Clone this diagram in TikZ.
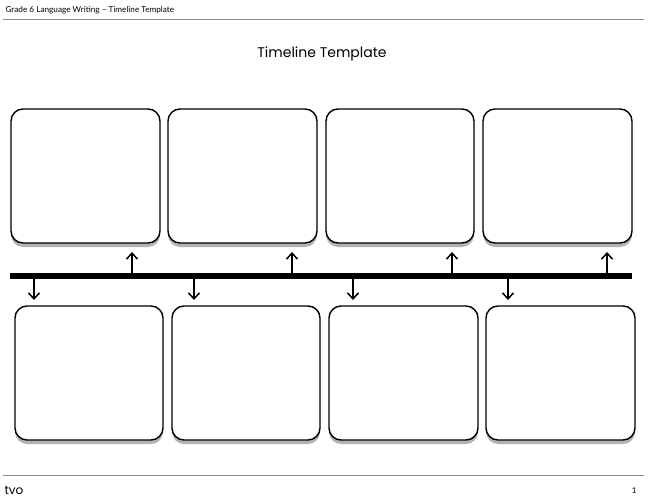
\documentclass[tikz,border=0pt]{standalone}
\usetikzlibrary{arrows.meta}
\usepackage{fontspec}
\setmainfont{Lato}
\newfontfamily\titlefont{Poppins}
\begin{document}
\begin{tikzpicture}[x=1pt,y=-1pt,
  card/.style={draw=black,line width=1.4pt,fill=white,rounded corners=12pt},
  shade/.style={fill=black!30,rounded corners=12pt},
  arr/.style={line width=1.5pt,-{Straight Barb[length=6pt,width=11pt]}},
  rule/.style={draw=black!45,line width=1pt}]
\useasboundingbox (0,0) rectangle (648,500);
\node[anchor=west,font=\fontsize{8.2}{10}\selectfont] (hdr) at (2,10) {Grade 6 Language Writing – Timeline Template};
\draw[rule] (3,20) -- (644,20);
\node[font=\titlefont\fontsize{14}{17}\selectfont] (title) at (322,54) {Timeline Template};
\foreach \i/\xa/\xb in {1/11/160,2/168/317,3/326/474,4/483/632}{
  \fill[shade] (\xa,112) rectangle (\xb,247);
  \draw[card] (\xa,109) rectangle (\xb,243);
}
\foreach \i/\xa/\xb in {1/15/163,2/172/320,3/329/478,4/486/635}{
  \fill[shade] (\xa,309) rectangle (\xb,444);
  \draw[card] (\xa,306) rectangle (\xb,440);
}
\fill[black] (10,272.5) rectangle (632,278.5);
\foreach \x in {132,292,452,607}{
  \coordinate (ua) at (\x,273); \coordinate (ub) at (\x,252);
  \draw[arr] (ua) -- (ub);}
\foreach \x in {34,194,353,508}{
  \coordinate (da) at (\x,278); \coordinate (db) at (\x,300);
  \draw[arr] (da) -- (db);}
\draw[rule] (3,475) -- (644,475);
\node[anchor=west,font=\titlefont\fontsize{12}{14}\selectfont] (logo) at (1,490) {tvo};
\node[anchor=east,font=\fontsize{8}{10}\selectfont] (pg) at (640,491) {1};
\end{tikzpicture}
\end{document}
